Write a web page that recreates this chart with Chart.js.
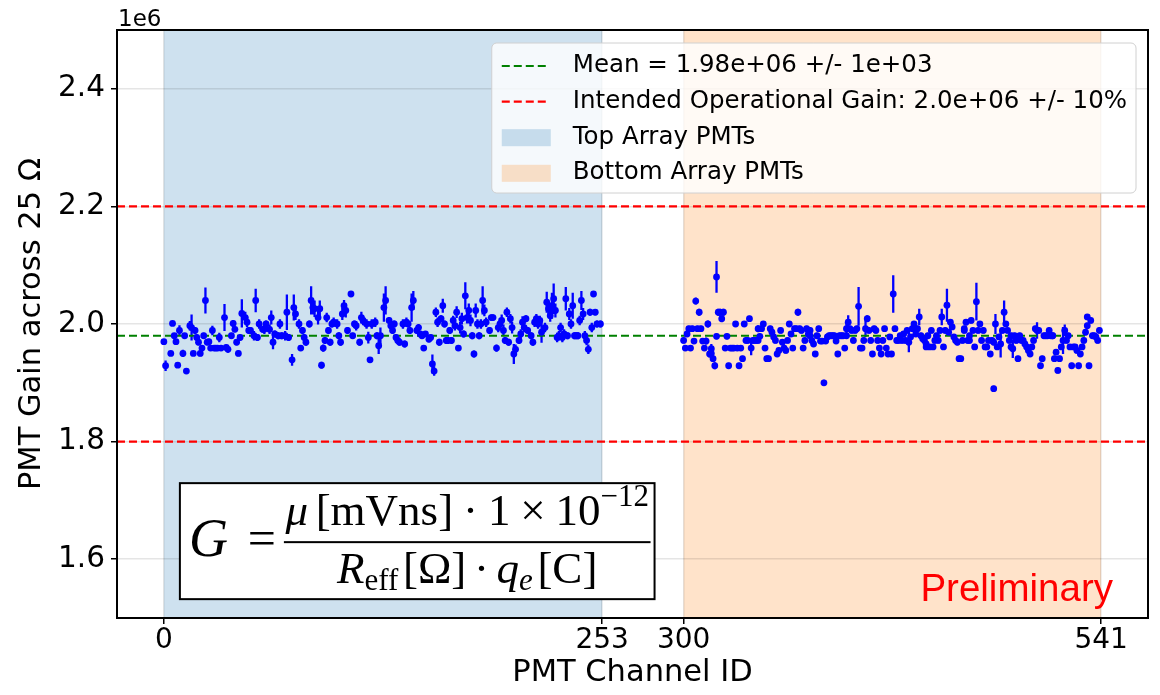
<!DOCTYPE html>
<html>
<head>
<meta charset="utf-8">
<title>PMT Gain</title>
<script src="https://cdn.jsdelivr.net/npm/chart.js@4.4.1/dist/chart.umd.min.js"></script>
<style>
  html, body { margin: 0; padding: 0; background: #fff; }
  canvas { display: block; }
</style>
</head>
<body>
<canvas id="gainChart" width="1160" height="695"></canvas>
<script>
// gains are in units of 1e3, error half-widths too
const topChannels = [0,1,4,5,6,7,8,9,11,12,13,15,16,17,18,19,20,21,22,23,24,25,26,27,28,29,30,31,32,33,35,36,37,39,40,41,42,43,44,45,47,48,49,50,52,53,54,55,57,58,59,61,62,63,64,66,67,68,70,71,72,74,75,76,78,79,80,81,82,84,85,86,87,89,90,91,92,93,94,95,96,97,98,100,101,102,103,104,105,106,108,109,110,111,113,114,115,117,118,119,120,122,123,
  124,125,127,128,130,131,132,133,134,135,136,138,139,140,141,142,143,144,146,147,148,149,150,151,153,154,155,156,157,158,159,160,161,162,163,164,165,166,167,168,169,170,171,172,173,174,175,176,177,178,179,180,181,182,183,184,185,186,188,189,190,192,193,194,195,196,197,198,199,200,201,202,203,205,206,207,208,209,210,212,213,214,215,216,217,218,220,221,222,223,224,225,226,227,228,229,230,231,232,233,234,235,236,237,238,239,240,241,242,243,244,245,246,247,248,249,250,252];
const topGain = [1970,1929,1950,2001,1980,1970,1930,1989,1950,1980,1920,1997,1994,1950,1989,1977,1969,1950,1959,1980,2040,1969,1970,1959,1989,1959,1959,1959,1977,1959,2011,1960,1957,1980,2001,1991,1969,1950,1977,2018,2011,2003,1989,1989,1980,2040,1977,2000,1991,1991,2000,1991,2011,1969,1983,1980,2000,1980,1980,2020,1977,1939,2028,2017,2000,1959,1989,1977,1969,2000,2040,2028,2026,2011,2026,1930,1959,1972,2011,1989,1969,2000,2003,2000,1980,1969,2017,2031,2023,1989,2051,1980,2000,1997,1969,2011,2006,2000,1977,1939,2000,2003,1980,
  1963,1980,2028,2040,2006,1997,1989,2000,1977,1972,1969,2000,1966,2003,2000,1989,2028,2040,1989,1994,1983,1980,1959,1983,1974,1977,1932,1920,2020,2003,1969,2009,2031,2000,1972,1972,1989,1972,2006,1997,2020,1959,1994,2009,1983,2048,2011,2023,2006,1980,1949,2023,2000,1980,2000,2040,2023,2003,1989,2011,2011,1959,1994,2000,2006,1989,1972,2020,1969,2009,1994,1949,1957,1972,1983,2003,1994,2009,1989,1980,1969,2003,2009,2000,2006,1986,1994,2037,2026,2014,2031,2043,2023,1977,1980,1994,1977,1983,2043,1980,2017,2000,2031,1980,1980,1980,2006,2040,2017,1980,1972,1957,2020,1994,2051,2020,2000,2000];
const topErr = [4,9,4,4,4,4,4,9,6,4,4,8,22,4,6,5,5,5,5,5,22,5,5,5,8,4,4,4,8,5,23,5,6,5,6,5,5,5,5,24,10,8,6,6,8,20,6,8,6,8,6,8,12,12,6,6,8,6,8,30,6,10,22,10,8,5,6,6,6,6,24,12,14,12,14,6,6,6,8,6,6,6,8,8,6,6,10,10,12,6,5,5,6,8,6,10,8,8,10,5,8,8,6,
  14,14,24,24,6,6,6,6,6,6,6,8,6,8,6,6,24,16,6,6,5,5,5,5,5,5,16,8,8,8,6,6,12,6,6,6,6,6,8,8,10,5,10,10,6,23,10,12,10,6,6,12,8,6,8,24,10,8,6,5,5,6,8,10,10,10,6,8,6,8,10,17,8,6,8,10,8,6,6,6,6,8,8,8,8,18,8,18,10,10,22,26,12,8,8,8,8,8,20,6,10,8,22,6,6,6,8,16,10,8,8,8,6,8,5,5,6,6];

const bottomChannels = [300,301,302,303,304,305,306,307,308,309,310,311,312,313,314,315,316,316,317,318,319,319,320,321,322,323,324,325,326,327,328,329,330,331,332,333,334,335,336,337,338,339,340,341,342,343,343,344,345,346,347,348,349,350,351,352,353,354,355,356,357,358,359,360,361,362,363,364,365,366,367,368,369,370,371,372,373,373,374,375,376,377,378,379,380,381,382,383,384,385,386,387,388,389,390,391,392,393,394,394,395,396,397,398,399,400,401,402,403,404,405,406,407,408,409,410,411,412,413,414,415,416,417,418,419,420,421,422,423,
  424,425,426,427,428,429,430,431,432,433,434,435,436,437,438,439,440,440,441,442,443,444,445,446,447,448,449,450,451,452,453,454,455,456,457,458,459,460,461,462,462,463,464,465,465,466,467,468,469,470,471,472,473,474,475,476,477,478,479,479,480,481,482,483,484,485,486,487,488,489,489,490,491,492,493,494,495,496,497,498,499,500,501,502,503,504,505,506,507,508,509,510,511,512,513,513,514,515,516,517,518,519,520,521,522,523,524,525,526,527,528,529,530,531,532,533,533,534,535,536,537,538,539,540];
const bottomGain = [1972,1959,1983,1992,1959,1992,1971,2039,1992,2020,1992,1971,1959,1971,2000,1949,1958,1950,1941,1929,2080,1979,2020,2020,2009,2020,1959,1979,1929,1959,1959,1959,2000,1959,1929,1959,1941,2000,1972,1972,2009,1959,1972,1972,1972,1992,1972,1979,1992,2000,1959,1941,1941,1992,1986,1978,1972,1949,1955,1989,1969,1959,1955,1972,2000,1983,1959,1992,1992,2020,1992,1989,1959,1972,1992,1983,1989,1980,1972,1966,1949,1980,1992,1971,1971,1900,1971,1978,1980,1980,1980,1980,1971,1949,1980,1980,1980,1959,1980,1992,2003,1992,1989,1972,1989,1992,2030,1959,1959,1972,1992,2009,1989,1972,1949,1992,1989,1972,1959,1949,1972,1992,1959,1949,1978,1949,2051,1992,1972,
  1972,1980,1972,1983,1972,1989,1969,1978,1992,2000,1983,1992,2012,1980,1975,1972,1966,1961,1980,1961,1989,1961,1972,1980,1972,1989,2012,1961,1989,2032,1986,2003,1995,1978,1972,1969,1941,1941,1972,1989,1992,2003,1972,1980,1972,2006,1989,1961,2038,1989,2000,1972,1989,1961,1961,1972,1949,1972,1890,1969,2000,1961,1978,1966,1989,2020,2000,1989,1972,1961,1980,1958,1980,1972,1941,1980,1972,1972,1966,1961,1955,1949,1961,1972,1992,1989,1989,1929,1941,1980,1980,1980,1989,1980,1980,1980,1941,1952,1921,1941,1961,1972,1989,1972,1980,1961,1929,1961,1961,1955,1929,1949,1961,1972,1986,1997,2012,1929,2006,1980,1980,1978,1972,1989];
const bottomErr = [5,5,5,5,5,5,5,6,5,6,5,5,5,6,6,6,8,6,5,6,27,5,6,6,6,6,5,5,5,5,5,5,5,5,5,5,5,5,5,5,5,12,5,5,5,6,5,5,5,5,5,5,5,5,5,5,5,5,5,5,5,5,5,5,5,5,5,5,5,6,5,5,5,5,5,5,6,6,5,5,5,5,5,5,5,5,5,5,5,5,5,5,5,5,5,5,5,5,5,12,12,5,5,5,5,5,33,5,5,5,14,6,5,5,5,5,5,5,5,5,5,5,5,5,5,5,32,5,5,
  5,5,5,5,5,5,17,5,5,5,5,5,14,5,5,5,5,5,5,5,5,5,5,5,5,5,14,5,5,28,5,5,5,5,5,5,5,5,5,5,5,5,5,5,5,5,5,5,32,5,5,5,5,5,5,5,5,5,5,5,17,5,5,23,5,20,5,5,5,5,5,16,5,5,5,5,5,5,5,5,5,5,5,5,5,14,5,5,5,5,5,5,5,5,5,5,5,5,5,5,5,23,10,5,5,5,5,5,5,5,5,5,5,5,5,5,5,5,5,5,5,5,5,5];

const meanGain = 1.98e6;
const meanErr = 1e3;
const intendedGain = 2.0e6;
const intendedTol = 0.10;

const topRange = [0, 253];
const bottomRange = [300, 541];
const xTicks = [0, 253, 300, 541];
const yTicks = [1.6e6, 1.8e6, 2.0e6, 2.2e6, 2.4e6];
const xLimits = [-27.05, 568.05];
const yLimits = [1.5e6, 2.5e6];

const topFill = 'rgba(31,119,180,0.22)';
const bottomFill = 'rgba(255,127,14,0.22)';
const dash = [8, 4];

// 1.98e+06 style, two-digit exponent
const fmtSci = (v, d) => v.toExponential(d).replace(/e([+-])(\d)$/, 'e$10$2');
const meanLabel = `Mean = ${fmtSci(meanGain, 2)} +/- ${fmtSci(meanErr, 0)}`;
const intendedLabel = `Intended Operational Gain: ${fmtSci(intendedGain, 1)} +/- ${Math.round(intendedTol * 100)}%`;

const toPoints = (ch, g) => ch.map((c, i) => ({ x: c, y: g[i] * 1e3 }));
const hLine = v => [{ x: xLimits[0], y: v }, { x: xLimits[1], y: v }];

const legendItems = [
  { label: meanLabel, line: 'green' },
  { label: intendedLabel, line: 'red' },
  { label: 'Top Array PMTs', fill: topFill },
  { label: 'Bottom Array PMTs', fill: bottomFill }
];

Chart.defaults.font.family = '"DejaVu Sans", sans-serif';
Chart.defaults.color = '#000';

// shaded channel ranges, under the grid
const shading = {
  id: 'shading',
  beforeDraw(chart) {
    const { ctx, chartArea: a, scales: { x } } = chart;
    ctx.save();
    ctx.fillStyle = '#fff';
    ctx.fillRect(0, 0, chart.width, chart.height);
    [[topRange, topFill], [bottomRange, bottomFill]].forEach(([r, c]) => {
      ctx.fillStyle = c;
      const x0 = x.getPixelForValue(r[0]);
      const x1 = x.getPixelForValue(r[1]);
      ctx.fillRect(x0, a.top, x1 - x0, a.bottom - a.top);
    });
    ctx.restore();
  }
};

// vertical error bars drawn before the markers
const errorBars = {
  id: 'errorBars',
  beforeDatasetsDraw(chart) {
    const { ctx, chartArea: a, scales: { x, y } } = chart;
    ctx.save();
    ctx.beginPath();
    ctx.rect(a.left, a.top, a.right - a.left, a.bottom - a.top);
    ctx.clip();
    chart.data.datasets.forEach(ds => {
      if (!ds.errors) return;
      ctx.strokeStyle = ds.pointBackgroundColor;
      ctx.lineWidth = 2.3;
      ctx.beginPath();
      ds.data.forEach((p, i) => {
        const px = x.getPixelForValue(p.x);
        ctx.moveTo(px, y.getPixelForValue(p.y - ds.errors[i]));
        ctx.lineTo(px, y.getPixelForValue(p.y + ds.errors[i]));
      });
      ctx.stroke();
    });
    ctx.restore();
  }
};

function drawLegend(ctx, a) {
  const fs = 24.5;
  ctx.font = `${fs}px "DejaVu Sans"`;
  const textW = Math.max(...legendItems.map(it => ctx.measureText(it.label).width));
  const w = 81 + textW + 9;
  const h = 150;
  const right = a.right - 12;
  const left = right - w;
  const top = a.top + 13;
  ctx.save();
  ctx.beginPath();
  ctx.roundRect(left, top, w, h, 5);
  ctx.fillStyle = 'rgba(255,255,255,0.8)';
  ctx.fill();
  ctx.strokeStyle = '#d0d0d0';
  ctx.lineWidth = 1;
  ctx.stroke();
  legendItems.forEach((it, i) => {
    const cy = top + 23 + i * 35.6;
    if (it.line) {
      ctx.strokeStyle = it.line;
      ctx.lineWidth = 2.2;
      ctx.setLineDash(dash);
      ctx.beginPath();
      ctx.moveTo(left + 10, cy);
      ctx.lineTo(left + 58, cy);
      ctx.stroke();
      ctx.setLineDash([]);
    } else {
      ctx.fillStyle = it.fill;
      ctx.fillRect(left + 10, cy - 8, 49, 17);
    }
    ctx.fillStyle = '#000';
    ctx.textBaseline = 'middle';
    ctx.textAlign = 'left';
    ctx.fillText(it.label, left + 81, cy);
  });
  ctx.restore();
}

// G = mu[mVns] * 1e-12 / (R_eff[Ohm] * q_e[C]) in a framed box
function drawFormula(ctx, a) {
  const fs = 45;
  const serif = '"Liberation Serif", "DejaVu Serif", serif';
  const setFont = (r, k = 1) => { ctx.font = `${r.it ? 'italic ' : ''}${Math.round(fs * k * (r.s || 1))}px ${serif}`; };
  const runW = runs => runs.reduce((s, r) => {
    if (r.gap) return s + r.gap * fs;
    setFont(r);
    return s + ctx.measureText(r.t).width;
  }, 0);
  const drawRuns = (runs, x0, base) => {
    let x = x0;
    runs.forEach(r => {
      if (r.gap) { x += r.gap * fs; return; }
      setFont(r);
      ctx.fillText(r.t, x, base + (r.dy || 0) * fs);
      x += ctx.measureText(r.t).width;
    });
  };
  const num = [
    { t: 'μ', it: true }, { gap: 0.17 }, { t: '[mVns]' }, { gap: 0.22 }, { t: '·' }, { gap: 0.22 },
    { t: '1' }, { gap: 0.22 }, { t: '×' }, { gap: 0.22 }, { t: '10' }, { t: '−12', s: 0.7, dy: -0.42 }
  ];
  const den = [
    { t: 'R', it: true }, { t: 'eff', s: 0.7, dy: 0.15 }, { gap: 0.1 }, { t: '[Ω]' }, { gap: 0.17 },
    { t: '·' }, { gap: 0.17 }, { t: 'q', it: true }, { t: 'e', it: true, s: 0.7, dy: 0.15 }, { gap: 0.1 }, { t: '[C]' }
  ];
  const w = a.right - a.left;
  const h = a.bottom - a.top;
  const boxL = a.left + 0.061 * w;
  const lineY = a.bottom - 0.129 * h;
  const fracL = boxL + 104;
  const numW = runW(num);
  const denW = runW(den);
  const fracW = Math.max(numW, denW) + 3;
  const boxR = fracL + fracW + 4;
  const boxT = lineY - 59;
  const boxB = lineY + 57;

  ctx.save();
  ctx.fillStyle = '#fff';
  ctx.fillRect(boxL, boxT, boxR - boxL, boxB - boxT);
  ctx.strokeStyle = '#000';
  ctx.lineWidth = 2;
  ctx.strokeRect(boxL, boxT, boxR - boxL, boxB - boxT);

  ctx.fillStyle = '#000';
  ctx.textBaseline = 'alphabetic';
  ctx.textAlign = 'left';
  setFont({ it: true }, 1.2);
  ctx.fillText('G', boxL + 9, lineY + 14);
  setFont({}, 1.1);
  ctx.textAlign = 'center';
  ctx.fillText('=', boxL + 82, lineY + 13);
  ctx.textAlign = 'left';

  ctx.fillRect(fracL, lineY - 1, fracW, 2);
  drawRuns(num, fracL + (fracW - numW) / 2, lineY - 17);
  drawRuns(den, fracL + (fracW - denW) / 2, lineY + 41);
  ctx.restore();
}

const overlay = {
  id: 'overlay',
  afterDraw(chart) {
    const { ctx, chartArea: a } = chart;
    ctx.save();
    // axes frame
    ctx.strokeStyle = '#000';
    ctx.lineWidth = 2;
    ctx.strokeRect(a.left, a.top, a.right - a.left, a.bottom - a.top);
    // offset text of the y axis
    ctx.fillStyle = '#000';
    ctx.font = '23px "DejaVu Sans"';
    ctx.textAlign = 'left';
    ctx.textBaseline = 'alphabetic';
    ctx.fillText('1e6', a.left + 1, a.top - 4);
    // watermark
    ctx.fillStyle = 'red';
    ctx.font = '38.5px "Liberation Sans", Arial, sans-serif';
    ctx.textAlign = 'right';
    ctx.fillText('Preliminary', a.left + 0.966 * (a.right - a.left), a.bottom - 17);
    ctx.restore();
    drawLegend(ctx, a);
    drawFormula(ctx, a);
  }
};

const markerStyle = {
  pointRadius: 3.4,
  pointBackgroundColor: 'blue',
  pointBorderWidth: 0,
  pointHoverRadius: 3.4,
  showLine: false
};
const refLine = color => ({
  type: 'line',
  borderColor: color,
  borderWidth: 2.2,
  borderDash: dash,
  pointRadius: 0,
  fill: false
});

new Chart(document.getElementById('gainChart'), {
  type: 'scatter',
  data: {
    datasets: [
      { label: 'Top Array PMTs', data: toPoints(topChannels, topGain), errors: topErr.map(e => e * 1e3), ...markerStyle },
      { label: 'Bottom Array PMTs', data: toPoints(bottomChannels, bottomGain), errors: bottomErr.map(e => e * 1e3), ...markerStyle },
      { label: meanLabel, data: hLine(meanGain), ...refLine('green') },
      { label: intendedLabel, data: hLine(intendedGain * (1 + intendedTol)), ...refLine('red') },
      { label: intendedLabel, data: hLine(intendedGain * (1 - intendedTol)), ...refLine('red') }
    ]
  },
  options: {
    responsive: false,
    animation: false,
    devicePixelRatio: 1,
    events: [],
    layout: { padding: { top: 30, right: 12, left: 0, bottom: 0 } },
    plugins: { legend: { display: false }, tooltip: { enabled: false } },
    scales: {
      x: {
        type: 'linear',
        min: xLimits[0],
        max: xLimits[1],
        afterBuildTicks: s => { s.ticks = xTicks.map(v => ({ value: v })); },
        afterFit: s => { s.height = 77; },
        ticks: { font: { size: 28 }, color: '#000', padding: 0, maxRotation: 0, autoSkip: false, callback: v => String(v) },
        grid: { color: 'rgba(0,0,0,0.1)', lineWidth: 1.5, tickColor: '#000', tickWidth: 1.5, tickLength: 6 },
        border: { display: false },
        title: { display: true, text: 'PMT Channel ID', font: { size: 30.5 }, color: '#000', padding: { top: 0, bottom: 4 } }
      },
      y: {
        type: 'linear',
        min: yLimits[0],
        max: yLimits[1],
        afterBuildTicks: s => { s.ticks = yTicks.map(v => ({ value: v })); },
        afterFit: s => { s.width = 117; },
        ticks: { font: { size: 29.5 }, color: '#000', padding: 6, callback: v => (v / 1e6).toFixed(1) },
        grid: { color: 'rgba(0,0,0,0.1)', lineWidth: 1.5, tickColor: '#000', tickWidth: 1.5, tickLength: 6 },
        border: { display: false },
        title: { display: true, text: 'PMT Gain across 25 Ω', font: { size: 30.5 }, color: '#000', padding: { top: 14, bottom: 0 } }
      }
    }
  },
  plugins: [shading, errorBars, overlay]
});
</script>
</body>
</html>
